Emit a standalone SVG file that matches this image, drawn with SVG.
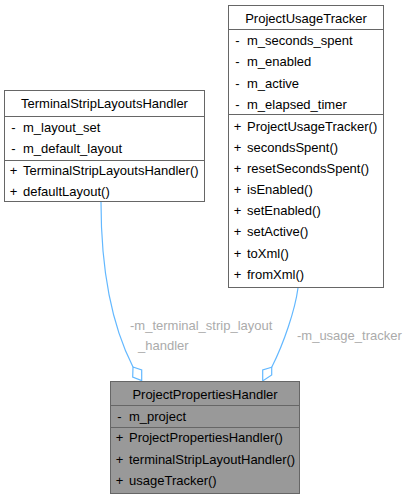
<svg xmlns="http://www.w3.org/2000/svg" width="410" height="499" viewBox="0 0 410 499">
<style>
text{font-family:"Liberation Sans",Arial,sans-serif;font-size:13px;fill:#000}
.box{fill:#fff;stroke:#666;stroke-width:1}
.hl{fill:#999;stroke:#666;stroke-width:1}
.sep{stroke:#666;stroke-width:1}
.t{text-anchor:middle}
.m{text-anchor:middle}
.edge{fill:none;stroke:#63b8ff;stroke-width:1.2}
.dia{fill:#fff;stroke:#63b8ff;stroke-width:1.2}
.lbl{fill:#ababab}
</style>
<rect width="410" height="499" fill="#fff"/>
<g id="edges">
<path class="edge" d="M101,202 C101,262 110,322 133,367"/>
<polygon class="dia" points="133,367 141.7,370 141.7,380.5 132.7,377"/>
<text class="lbl" x="130" y="329.5">-m_terminal_strip_layout</text>
<text class="lbl" x="138" y="349.5">_handler</text>
<path class="edge" d="M298,288 C295,310 284,343 271.7,367.3"/>
<polygon class="dia" points="271.7,367.3 271.7,375 262.7,381 262.7,370"/>
<text class="lbl" x="297" y="339.5">-m_usage_tracker</text>
</g>
<g id="TerminalStripLayoutsHandler">
<rect class="box" x="4.5" y="90.5" width="200" height="111"/>
<line class="sep" x1="4.5" y1="116.5" x2="204.5" y2="116.5"/>
<line class="sep" x1="4.5" y1="160.5" x2="204.5" y2="160.5"/>
<text class="t" x="104.5" y="108">TerminalStripLayoutsHandler</text>
<text class="m" x="13.5" y="131.5">-</text><text x="23" y="131.5">m_layout_set</text>
<text class="m" x="13.5" y="152.5">-</text><text x="23" y="152.5">m_default_layout</text>
<text class="m" x="13.5" y="174.5">+</text><text x="23" y="174.5">TerminalStripLayoutsHandler()</text>
<text class="m" x="13.5" y="195.5">+</text><text x="23" y="195.5">defaultLayout()</text>
</g>
<g id="ProjectUsageTracker">
<rect class="box" x="228.5" y="5.5" width="155" height="282"/>
<line class="sep" x1="228.5" y1="29.5" x2="383.5" y2="29.5"/>
<line class="sep" x1="228.5" y1="114.5" x2="383.5" y2="114.5"/>
<text class="t" x="306" y="22.5">ProjectUsageTracker</text>
<text class="m" x="237.5" y="44.5">-</text><text x="247" y="44.5">m_seconds_spent</text>
<text class="m" x="237.5" y="66">-</text><text x="247" y="66">m_enabled</text>
<text class="m" x="237.5" y="87.5">-</text><text x="247" y="87.5">m_active</text>
<text class="m" x="237.5" y="108.5">-</text><text x="247" y="108.5">m_elapsed_timer</text>
<text class="m" x="237.5" y="130.5">+</text><text x="247" y="130.5">ProjectUsageTracker()</text>
<text class="m" x="237.5" y="151.5">+</text><text x="247" y="151.5">secondsSpent()</text>
<text class="m" x="237.5" y="172.5">+</text><text x="247" y="172.5">resetSecondsSpent()</text>
<text class="m" x="237.5" y="193.5">+</text><text x="247" y="193.5">isEnabled()</text>
<text class="m" x="237.5" y="215">+</text><text x="247" y="215">setEnabled()</text>
<text class="m" x="237.5" y="236">+</text><text x="247" y="236">setActive()</text>
<text class="m" x="237.5" y="257.5">+</text><text x="247" y="257.5">toXml()</text>
<text class="m" x="237.5" y="279">+</text><text x="247" y="279">fromXml()</text>
</g>
<g id="ProjectPropertiesHandler">
<rect class="hl" x="110.5" y="381.5" width="189" height="112"/>
<line class="sep" x1="110.5" y1="405.5" x2="299.5" y2="405.5"/>
<line class="sep" x1="110.5" y1="427.5" x2="299.5" y2="427.5"/>
<text class="t" x="205" y="398.5">ProjectPropertiesHandler</text>
<text class="m" x="119.5" y="421">-</text><text x="129" y="421">m_project</text>
<text class="m" x="119.5" y="442">+</text><text x="129" y="442">ProjectPropertiesHandler()</text>
<text class="m" x="119.5" y="463.5">+</text><text x="129" y="463.5">terminalStripLayoutHandler()</text>
<text class="m" x="119.5" y="485">+</text><text x="129" y="485">usageTracker()</text>
</g>
</svg>
